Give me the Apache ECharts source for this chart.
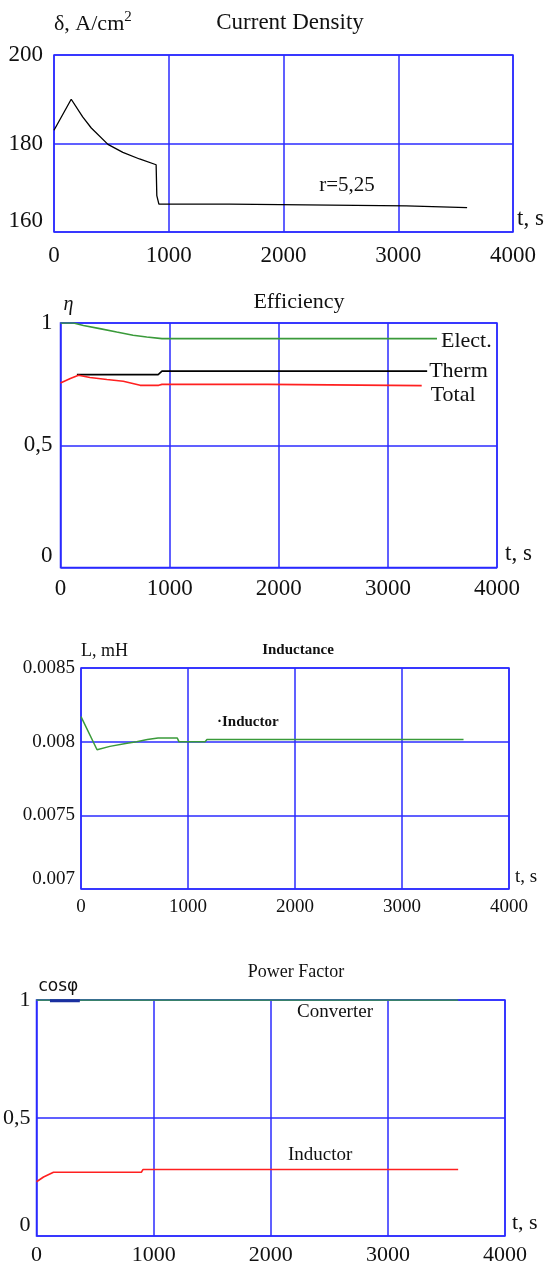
<!DOCTYPE html>
<html>
<head>
<meta charset="utf-8">
<script src="https://cdn.jsdelivr.net/npm/echarts@6/dist/echarts.min.js"></script>
<style>
  html, body { margin: 0; padding: 0; background: #fff; }
  #chart { width: 549px; height: 1266px; }
</style>
</head>
<body>
<div id="chart"></div>
<script>
// Current density (A/cm2) vs time (s)
const tDensity = [0, 150, 250, 325, 470, 600, 745, 890, 896, 914, 1530, 1535, 3070, 3075, 3600];
const vDensity = [183, 190, 186, 183.5, 179.8, 178, 176.5, 175.2, 168.2, 166.3, 166.3, 165.9, 165.9, 165.5, 165.5];

// Efficiency
const tElect = [0, 120, 210, 360, 515, 665, 790, 930, 3450];
const vElect = [1, 1, 0.99, 0.977, 0.963, 0.95, 0.943, 0.936, 0.936];
const tTherm = [150, 895, 930, 3360];
const vTherm = [0.789, 0.789, 0.803, 0.803];
const tTotal = [0, 90, 165, 270, 425, 575, 730, 900, 930, 1900, 1910, 3310];
const vTotal = [0.755, 0.773, 0.786, 0.777, 0.769, 0.762, 0.745, 0.745, 0.749, 0.749, 0.744, 0.744];

// Inductance (mH)
const tInduct = [0, 150, 270, 430, 520, 620, 720, 900, 915, 1160, 1177, 3575];
const vInduct = [0.00817, 0.007945, 0.007968, 0.00799, 0.008, 0.008014, 0.008025, 0.008025, 0.008, 0.008, 0.008014, 0.008014];

// Power factor
const tConverter = [0, 3600];
const vConverter = [1, 1];
const tConvStart = [115, 370];
const vConvStart = [0.997, 0.997];
const tPfInductor = [0, 60, 145, 895, 910, 3600];
const vPfInductor = [0.23, 0.25, 0.27, 0.27, 0.282, 0.282];

const timeTicks = [0, 4000, 1000];

const serif = '"Liberation Serif", "Times New Roman", serif';
const gridBlue = '#2b2bff';
const txt = '#111';

function pairs(t, v) {
    return t.map((x, i) => [x, v[i]]);
}

const grids = [
    { left: 54, top: 55, width: 459, height: 177 },
    { left: 60.5, top: 323, width: 436.5, height: 244.5 },
    { left: 81, top: 668, width: 428, height: 221 },
    { left: 35, top: 1000, width: 470, height: 237 }
].map(g => Object.assign(g, { show: true, borderColor: gridBlue, borderWidth: 1.5, containLabel: false }));

function xAxisFor(idx, fontSize, margin, nameGap) {
    return {
        type: 'value', gridIndex: idx,
        min: timeTicks[0], max: timeTicks[1], interval: timeTicks[2],
        name: 't, s', nameLocation: 'end', nameGap: nameGap,
        nameTextStyle: { fontFamily: serif, fontSize: fontSize, color: txt, align: 'left', verticalAlign: 'bottom', padding: [0, 0, 2, 0] },
        axisLine: { show: false }, axisTick: { show: false },
        axisLabel: { fontFamily: serif, fontSize: fontSize, color: txt, margin: margin, formatter: v => String(v) },
        splitLine: { show: true, lineStyle: { color: gridBlue, width: 1.5 } }
    };
}

function yAxisFor(idx, min, max, interval, fontSize, margin, fmt, name, nameGap, nameStyle) {
    return {
        type: 'value', gridIndex: idx, min: min, max: max, interval: interval,
        name: name, nameLocation: 'end', nameGap: nameGap,
        nameTextStyle: Object.assign({ fontFamily: serif, color: txt, align: 'left', verticalAlign: 'bottom' }, nameStyle),
        axisLine: { show: false }, axisTick: { show: false },
        axisLabel: { fontFamily: serif, fontSize: fontSize, color: txt, margin: margin, formatter: fmt, verticalAlignMinLabel: 'bottom' },
        splitLine: { show: true, lineStyle: { color: gridBlue, width: 1.5 } }
    };
}

const comma = v => String(v).replace('.', ',');

function lineSeries(idx, data, color, width, extra) {
    return Object.assign({
        type: 'line', xAxisIndex: idx, yAxisIndex: idx, data: data,
        showSymbol: false, symbol: 'none', silent: true, animation: false,
        lineStyle: { color: color, width: width }
    }, extra || {});
}

function endLabel(text, distance, offset) {
    return {
        endLabel: {
            show: true, formatter: text, distance: distance, offset: offset,
            fontFamily: serif, fontSize: 22, color: txt
        }
    };
}

function label(text, x, y, size, align, weight, family) {
    return {
        type: 'text', x: x, y: y, silent: true,
        style: {
            text: text, fill: txt, align: align || 'left', verticalAlign: 'middle',
            font: (weight || 'normal') + ' ' + size + 'px ' + (family || serif)
        }
    };
}

const chart = echarts.init(document.getElementById('chart'));

chart.setOption({
    animation: false,
    grid: grids,
    xAxis: [
        xAxisFor(0, 23, 12, 4),
        xAxisFor(1, 23, 10, 8),
        xAxisFor(2, 19, 9, 6),
        xAxisFor(3, 22, 8, 7)
    ],
    yAxis: [
        yAxisFor(0, 160, 200, 20, 23, 11, v => String(v),
            '{a|δ, A/cm}{s|2}', 16,
            { rich: { a: { fontFamily: serif, fontSize: 22, color: txt }, s: { fontFamily: serif, fontSize: 15, color: txt, padding: [0, 0, 14, 0] } } }),
        yAxisFor(1, 0, 1, 0.5, 23, 8, comma, 'η', 8, { fontSize: 20, fontStyle: 'italic', padding: [0, 0, 0, 3] }),
        yAxisFor(2, 0.007, 0.0085, 0.0005, 19, 6, v => String(Number(v.toFixed(4))), 'L, mH', 8, { fontSize: 18 }),
        yAxisFor(3, 0, 1, 0.5, 22, 6, comma, 'cosφ', 5, { fontSize: 17, fontFamily: '"DejaVu Sans", sans-serif', padding: [0, 0, 0, 2] })
    ],
    series: [
        lineSeries(0, pairs(tDensity, vDensity), '#000', 1.3),
        lineSeries(1, pairs(tElect, vElect), '#3a9a3a', 1.6, endLabel('Elect.', 4, [0, 3])),
        lineSeries(1, pairs(tTherm, vTherm), '#000', 1.6, endLabel('Therm', 2, [0, 0])),
        lineSeries(1, pairs(tTotal, vTotal), '#ff2020', 1.6, endLabel('Total', 9, [0, 10])),
        lineSeries(2, pairs(tInduct, vInduct), '#3a9a3a', 1.5),
        lineSeries(3, pairs(tConverter, vConverter), '#3a9a3a', 1.6),
        lineSeries(3, pairs(tConvStart, vConvStart), '#1a2fa0', 3),
        lineSeries(3, pairs(tPfInductor, vPfInductor), '#ff2020', 1.6)
    ],
    graphic: [
        label('Current Density', 290, 23, 23, 'center'),
        label('r=5,25', 347, 185, 21, 'center'),
        label('Efficiency', 299, 302, 22, 'center'),
        label('Inductance', 298, 650, 15, 'center', 'bold'),
        label('·Inductor', 217, 722, 15, 'left', 'bold'),
        label('Power Factor', 296, 972, 18, 'center'),
        label('Converter', 297, 1012, 19, 'left'),
        label('Inductor', 288, 1155, 19, 'left')
    ]
});

window.addEventListener('resize', () => chart.resize());
</script>
</body>
</html>
